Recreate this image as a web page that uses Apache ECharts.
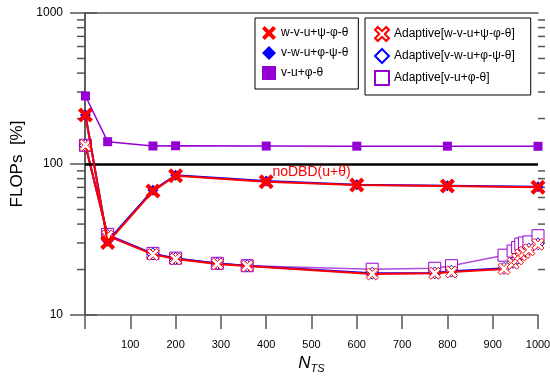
<!DOCTYPE html>
<html>
<head>
<meta charset="utf-8">
<script src="https://cdn.jsdelivr.net/npm/echarts@6/dist/echarts.min.js"></script>
<style>
  html, body { margin: 0; padding: 0; background: #fff; }
  #chart { width: 550px; height: 376px; }
</style>
</head>
<body>
<div id="chart"></div>
<script>
// N_TS values and FLOPs [%]
var nts = [1, 50, 150, 200, 400, 600, 800, 1000];
var wvuVals = [211, 30.2, 66.2, 83.6, 76.4, 72.6, 71.5, 70.1];
var vwuVals = [211, 30.8, 67.0, 84.2, 77.2, 73.0, 71.8, 70.6];
var vuVals  = [282, 140.5, 131.6, 132, 131.5, 131.2, 131.2, 131];

var adaptNts = [1, 50, 150, 200, 292, 358, 634, 772, 809, 925, 945, 955, 962, 970, 980, 1000];
var adaptWvu = [133, 33.4, 25.2, 23.5, 21.8, 21.1, 18.7, 18.9, 19.3, 20.2, 22, 23.5, 25, 26, 27, 29.4];
var adaptVwu = [133, 33.6, 25.4, 23.7, 21.9, 21.2, 18.9, 19.0, 19.5, 20.4, 22.3, 23.8, 25.2, 26.3, 27.3, 29.6];
var adaptVu  = [133, 34.2, 25.6, 23.8, 22.0, 21.2, 20.1, 20.4, 21.2, 24.9, 26.5, 28, 29.5, 30, 30.5, 33.5];

var minorTicks = [20, 30, 40, 50, 60, 70, 80, 90, 200, 300, 400, 500, 600, 700, 800, 900];

var crossPath = 'path://M0,2 L2,0 L5,3 L8,0 L10,2 L7,5 L10,8 L8,10 L5,7 L2,10 L0,8 L3,5 Z';

function pairs(xs, ys) {
    return xs.map(function (x, i) { return [x, ys[i]]; });
}

var font = 'Liberation Sans, Arial, sans-serif';
var axisCol = '#555';

var myChart = echarts.init(document.getElementById('chart'));

var legendBase = {
    orient: 'vertical',
    top: 18,
    padding: [8, 10, 9, 7],
    itemGap: 6,
    itemWidth: 14, itemHeight: 14,
    borderColor: '#000', borderWidth: 1,
    textStyle: { fontFamily: font, fontSize: 12, color: '#000' }
};

var option = {
    animation: false,
    grid: { left: 85, right: 12, top: 13, bottom: 61, outerBoundsMode: 'none' },
    legend: [
        Object.assign({}, legendBase, {
            left: 255,
            data: [
                { name: 'w-v-u+ψ-φ-θ', icon: crossPath },
                { name: 'v-w-u+φ-ψ-θ', icon: 'diamond' },
                { name: 'v-u+φ-θ', icon: 'rect' }
            ]
        }),
        Object.assign({}, legendBase, {
            left: 365,
            padding: [8, 16, 9, 9],
            data: [
                { name: 'Adaptive[w-v-u+ψ-φ-θ]', icon: crossPath },
                { name: 'Adaptive[v-w-u+φ-ψ-θ]', icon: 'diamond' },
                { name: 'Adaptive[v-u+φ-θ]', icon: 'rect' }
            ]
        })
    ],
    xAxis: [{
        type: 'value',
        min: 0, max: 1000, interval: 100,
        name: '{n|N}{s|TS}',
        nameLocation: 'middle',
        nameGap: 38,
        nameTextStyle: {
            rich: {
                n: { fontFamily: font, fontSize: 17, fontStyle: 'italic', color: '#000' },
                s: { fontFamily: font, fontSize: 11, fontStyle: 'italic', color: '#000', verticalAlign: 'bottom', padding: [10, 0, 0, 0] }
            }
        },
        axisLine: { lineStyle: { color: axisCol, width: 1.5 } },
        axisTick: { inside: false, length: 14, lineStyle: { color: axisCol, width: 1.5 } },
        axisLabel: {
            margin: 24,
            fontFamily: font, fontSize: 11, color: '#000',
            formatter: function (v) { return v === 0 ? '' : String(v); }
        },
        splitLine: { show: false }
    }, {
        type: 'value',
        position: 'top',
        min: 0, max: 1000,
        axisLine: { show: true, lineStyle: { color: axisCol, width: 1.5 } },
        axisTick: { show: false },
        axisLabel: { show: false },
        splitLine: { show: false }
    }],
    yAxis: [{
        type: 'log',
        logBase: 10,
        min: 10, max: 1000,
        name: 'FLOPs  [%]',
        nameLocation: 'middle',
        nameGap: 55,
        nameTextStyle: { fontFamily: font, fontSize: 17, color: '#000' },
        axisLine: { show: true, lineStyle: { color: axisCol, width: 1.5 } },
        axisTick: { inside: false, length: 15, lineStyle: { color: axisCol, width: 1.5 } },
        axisLabel: {
            margin: 22, fontFamily: font, fontSize: 12, color: '#000',
            formatter: function (v) { return String(Math.round(v)); }
        },
        splitLine: { show: false }
    }, {
        type: 'log',
        logBase: 10,
        position: 'right',
        min: 10, max: 1000,
        axisLine: { show: true, lineStyle: { color: axisCol, width: 1.5 } },
        axisTick: { inside: false, length: 12, lineStyle: { color: axisCol, width: 1.5 } },
        axisLabel: { show: false },
        splitLine: { show: false }
    }],
    series: [{
        name: 'v-w-u+φ-ψ-θ',
        type: 'line',
        z: 3,
        symbol: 'diamond', symbolSize: 11,
        itemStyle: { color: '#0000ff' },
        lineStyle: { color: '#0000ff', width: 2 },
        data: pairs(nts, vwuVals)
    }, {
        name: 'w-v-u+ψ-φ-θ',
        type: 'line',
        z: 5,
        symbol: crossPath, symbolSize: 15,
        itemStyle: { color: '#ff0000' },
        lineStyle: { color: '#ff0000', width: 2 },
        data: pairs(nts, wvuVals),
        markLine: {
            silent: true,
            symbol: 'none',
            lineStyle: { color: '#000', width: 2.5, type: 'solid' },
            label: {
                position: 'insideMiddleBottom',
                formatter: 'noDBD(u+θ)',
                fontFamily: font, fontSize: 14, color: '#ff0000',
                distance: 1
            },
            data: [{ yAxis: 100 }]
        }
    }, {
        name: 'v-u+φ-θ',
        type: 'line',
        z: 4,
        symbol: 'rect', symbolSize: 9,
        itemStyle: { color: '#9400d3' },
        lineStyle: { color: '#9400d3', width: 1.5 },
        data: pairs(nts, vuVals)
    }, {
        name: 'Adaptive[v-u+φ-θ]',
        type: 'line',
        z: 2,
        symbol: 'rect', symbolSize: 12,
        itemStyle: { color: '#fff', borderColor: '#9400d3', borderWidth: 1 },
        lineStyle: { color: '#b04ce0', width: 1.5 },
        data: pairs(adaptNts, adaptVu)
    }, {
        name: 'Adaptive[v-w-u+φ-ψ-θ]',
        type: 'line',
        z: 3,
        symbol: 'diamond', symbolSize: 12,
        itemStyle: { color: '#fff', borderColor: '#0000ff', borderWidth: 1 },
        lineStyle: { color: '#0000ff', width: 2 },
        data: pairs(adaptNts, adaptVwu)
    }, {
        name: 'Adaptive[w-v-u+ψ-φ-θ]',
        type: 'line',
        z: 4,
        symbol: crossPath, symbolSize: 12,
        itemStyle: { color: '#fff', borderColor: '#ff0000', borderWidth: 1 },
        lineStyle: { color: '#ff0000', width: 2 },
        data: pairs(adaptNts, adaptWvu)
    }, {
        // minor ticks of the log axes, placed through the axis scale
        name: 'minorTicks',
        type: 'custom',
        silent: true,
        clip: false,
        z: 1,
        data: minorTicks.map(function (v) { return [0, v]; }),
        renderItem: function (params, api) {
            var v = api.value(1);
            var l = api.coord([0, v]);
            var r = api.coord([1000, v]);
            var st = { stroke: axisCol, lineWidth: 1.5 };
            return {
                type: 'group',
                children: [
                    { type: 'line', shape: { x1: l[0] - 8, y1: l[1], x2: l[0], y2: l[1] }, style: st },
                    { type: 'line', shape: { x1: r[0], y1: r[1], x2: r[0] + 7, y2: r[1] }, style: st }
                ]
            };
        }
    }]
};

myChart.setOption(option);
</script>
</body>
</html>
